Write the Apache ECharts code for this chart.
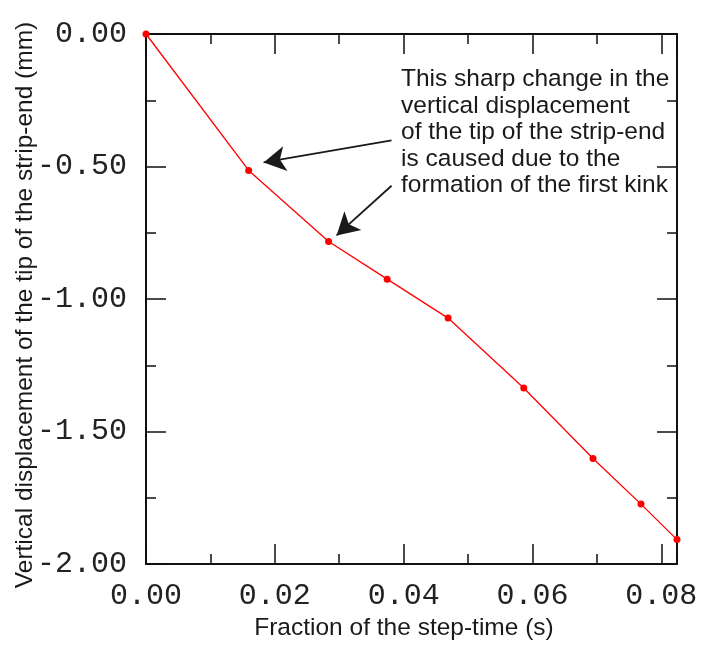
<!DOCTYPE html>
<html>
<head>
<meta charset="utf-8">
<script src="https://cdn.jsdelivr.net/npm/echarts@6/dist/echarts.min.js"></script>
<style>
  html, body { margin: 0; padding: 0; background: #ffffff; }
  #chart { width: 711px; height: 646px; }
</style>
</head>
<body>
<div id="chart"></div>
<script>
// ---- data ----
const xValues = [0, 0.01594, 0.02835, 0.03744, 0.0469, 0.05865, 0.0694, 0.07685, 0.08244];
const yValues = [0, -0.515, -0.783, -0.925, -1.072, -1.336, -1.602, -1.774, -1.908];
const xTitle = 'Fraction of the step-time (s)';
const yTitle = 'Vertical displacement of the tip of the strip-end (mm)';
const annotationLines = [
  'This sharp change in the',
  'vertical displacement',
  'of the tip of the strip-end',
  'is caused due to the',
  'formation of the first kink'
];
// arrows in data units: tail and tip
const arrowTails = [[0.03812, -0.401], [0.03812, -0.5725]];
const arrowTips = [[0.01826, -0.4845], [0.02959, -0.760]];

const xMin = 0, xMax = 0.08244, yMin = -2, yMax = 0;

const chart = echarts.init(document.getElementById('chart'), null, { renderer: 'canvas' });

const gridRect = { left: 146, top: 34, right: 34, bottom: 82 };
const axisColor = '#111111';
const monoLabel = {
  fontFamily: '"Liberation Mono", monospace',
  fontSize: 30,
  color: '#222222',
  formatter: v => v.toFixed(2)
};
const sansName = {
  fontFamily: '"Liberation Sans", Arial, sans-serif',
  fontSize: 24.5,
  color: '#1a1a1a'
};

function xAxisCfg(grid, pos, interval, len, major) {
  return {
    type: 'value', gridIndex: grid, position: pos, min: xMin, max: xMax, interval: interval,
    axisLine: { show: major, onZero: false, lineStyle: { color: axisColor, width: 2 } },
    axisTick: { show: true, inside: true, length: len, lineStyle: { color: axisColor, width: 1.5 } },
    axisLabel: (major && pos === 'bottom') ? Object.assign({ show: true, margin: 17, showMaxLabel: false }, monoLabel) : { show: false },
    splitLine: { show: false },
    name: (major && pos === 'bottom') ? xTitle : '',
    nameLocation: 'middle', nameGap: 35,
    nameTextStyle: Object.assign({ padding: [0, 15, 0, 0] }, sansName)
  };
}
function yAxisCfg(grid, pos, interval, len, major) {
  return {
    type: 'value', gridIndex: grid, position: pos, min: yMin, max: yMax, interval: interval,
    axisLine: { show: major, onZero: false, lineStyle: { color: axisColor, width: 2 } },
    axisTick: { show: true, inside: true, length: len, lineStyle: { color: axisColor, width: 1.5 } },
    axisLabel: (major && pos === 'left') ? Object.assign({ show: true, margin: 19 }, monoLabel) : { show: false },
    splitLine: { show: false },
    name: (major && pos === 'left') ? yTitle : '',
    nameLocation: 'middle', nameGap: 108, nameRotate: 90,
    nameMoveOverlap: false,
    nameTextStyle: Object.assign({ padding: [0, 12, 0, 0] }, sansName)
  };
}

const option = {
  animation: false,
  backgroundColor: '#ffffff',
  grid: [
    Object.assign({ containLabel: false, outerBoundsMode: 'none' }, gridRect),
    Object.assign({ containLabel: false, outerBoundsMode: 'none' }, gridRect)
  ],
  xAxis: [
    xAxisCfg(0, 'bottom', 0.02, 20, true),
    xAxisCfg(0, 'top', 0.02, 20, true),
    xAxisCfg(1, 'bottom', 0.01, 10, false),
    xAxisCfg(1, 'top', 0.01, 10, false)
  ],
  yAxis: [
    yAxisCfg(0, 'left', 0.5, 20, true),
    yAxisCfg(0, 'right', 0.5, 20, true),
    yAxisCfg(1, 'left', 0.25, 10, false),
    yAxisCfg(1, 'right', 0.25, 10, false)
  ],
  graphic: [{
    type: 'text',
    left: 401,
    top: 66,
    silent: true,
    style: {
      text: annotationLines.join('\n'),
      fontFamily: '"Liberation Sans", Arial, sans-serif',
      fontSize: 24.5,
      lineHeight: 26.5,
      fill: '#1a1a1a'
    }
  }],
  series: [{
    type: 'line',
    xAxisIndex: 0,
    yAxisIndex: 0,
    data: xValues.map((x, i) => [x, yValues[i]]),
    symbol: 'circle',
    symbolSize: 7,
    showSymbol: true,
    clip: false,
    lineStyle: { color: '#ff0000', width: 1.3 },
    itemStyle: { color: '#ff0000' },
    emphasis: { disabled: true },
    markLine: {
      silent: true,
      animation: false,
      symbol: ['none', 'arrow'],
      symbolSize: 20,
      label: { show: false },
      lineStyle: { color: '#1a1a1a', width: 1.8, type: 'solid' },
      emphasis: { disabled: true },
      data: arrowTails.map((t, i) => [
        { coord: t },
        { coord: arrowTips[i], symbolSize: [19, 22] }
      ])
    }
  }]
};
chart.setOption(option);
</script>
</body>
</html>
